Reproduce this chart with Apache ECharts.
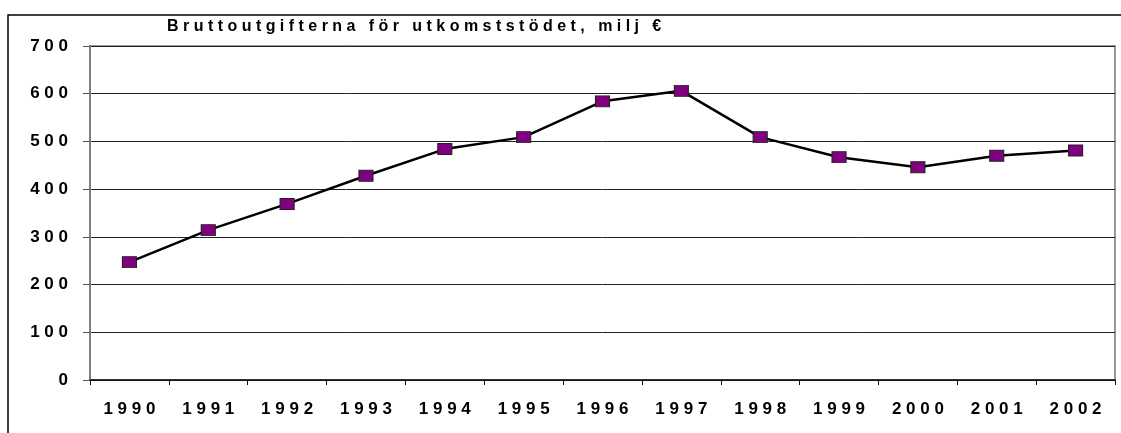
<!DOCTYPE html>
<html>
<head>
<meta charset="utf-8">
<script src="https://cdn.jsdelivr.net/npm/echarts@6/dist/echarts.min.js"></script>
<style>
  html, body { margin: 0; padding: 0; background: #fff; }
  #chart { width: 1121px; height: 433px; }
</style>
</head>
<body>
<div id="chart"></div>
<script>
    'use strict';

    // data
    var years = ['1990', '1991', '1992', '1993', '1994', '1995', '1996',
        '1997', '1998', '1999', '2000', '2001', '2002'];
    var grossExpenses = [247, 314, 369, 428, 484, 509, 584, 606, 509, 467, 446, 470, 481];
    var chartTitle = 'Bruttoutgifterna för utkomststödet, milj €';

    // the original uses wide letter spacing, fake it with spaces
    function spaced(s) {
        return String(s).split('').join(' ');
    }

    var font = 'Liberation Sans, Arial, sans-serif';

    var myChart = echarts.init(document.getElementById('chart'), null, { renderer: 'canvas' });

    var option = {
        animation: false,
        backgroundColor: '#fff',
        title: {
            text: spaced(chartTitle),
            left: 167,
            top: 19,
            padding: 0,
            textStyle: {
                fontFamily: font,
                fontWeight: 'bold',
                fontSize: 16,
                color: '#000'
            }
        },
        graphic: [
            {
                // outer frame, only top and left visible
                type: 'rect',
                shape: { x: 8, y: 15, width: 1200, height: 500 },
                style: { fill: null, stroke: '#000', lineWidth: 1.5 },
                silent: true,
                z: -1
            }
        ],
        grid: {
            left: 90,
            right: 6,
            top: 46,
            bottom: 53,
            show: true,
            backgroundColor: '#fff',
            borderColor: '#999',
            borderWidth: 2
        },
        xAxis: {
            type: 'category',
            data: years,
            boundaryGap: true,
            axisLine: { lineStyle: { color: '#111', width: 1.5 } },
            axisTick: { show: true, length: 5, alignWithLabel: false, lineStyle: { color: '#111' } },
            axisLabel: {
                margin: 21,
                fontFamily: font,
                fontWeight: 'bold',
                fontSize: 17,
                color: '#000',
                formatter: function (v) { return spaced(v); }
            },
            splitLine: { show: false }
        },
        yAxis: {
            type: 'value',
            min: 0,
            max: 700,
            interval: 100,
            axisLine: { show: true, lineStyle: { color: '#808080', width: 2 } },
            axisTick: { show: true, length: 7, lineStyle: { color: '#555' } },
            axisLabel: {
                margin: 22,
                fontFamily: font,
                fontWeight: 'bold',
                fontSize: 17,
                color: '#000',
                formatter: function (v) { return spaced(v); }
            },
            splitLine: { show: true, lineStyle: { color: '#222', width: 1 } }
        },
        series: [
            {
                type: 'line',
                data: grossExpenses,
                symbol: 'rect',
                symbolSize: [14, 11],
                showSymbol: true,
                lineStyle: { color: '#000', width: 2.5 },
                itemStyle: { color: '#800080', borderColor: '#222', borderWidth: 1 },
                z: 3
            }
        ]
    };

    option && myChart.setOption(option);
</script>
</body>
</html>
